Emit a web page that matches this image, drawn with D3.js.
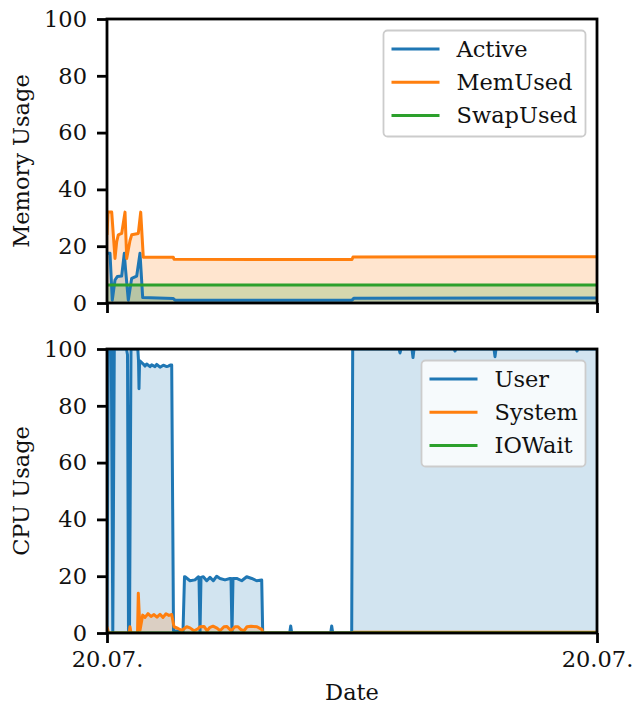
<!DOCTYPE html>
<html>
<head>
<meta charset="utf-8">
<script src="https://cdn.jsdelivr.net/npm/d3@7"></script>
<style>
  body { margin: 0; background: #fff; }
  svg text { font-family: "DejaVu Serif"; fill: #111; }
</style>
</head>
<body>
<svg id="chart" width="634" height="706"></svg>
<script>
// time axis: minutes after the start of the record
var startTime = new Date(2020, 6, 20, 9, 0);
var spanMin = 490;

// memory panel (percent)
var activeMin  = [0, 3, 5.3, 8, 10.3, 14.7, 17.3, 18.5, 21.3, 24.7, 29.7, 33, 35.7, 66.3, 68, 245, 247, 490];
var activeVal  = [17.5, 17.5, 1, 8.1, 9.3, 9.5, 17.5, 12, 1, 8.7, 9.5, 17.5, 1.9, 1.6, 1.0, 1.0, 1.7, 1.8];
var memUsedMin = [0, 1, 4.7, 8, 9.7, 11.3, 14.7, 18, 19.7, 23, 24.7, 31.3, 33.7, 36.3, 66.3, 67, 245, 246, 490];
var memUsedVal = [24, 32, 32, 15.7, 21.6, 24, 24.5, 32, 15.7, 22, 24, 24.5, 32, 16.1, 16.1, 15.4, 15.3, 16.2, 16.3];
var swapMin    = [0, 490];
var swapVal    = [6.3, 6.3];

// cpu panel (percent)
var userMin = [0, 1.3, 4.3, 5.8, 7.3, 19.5, 20.5, 21.5, 22.5, 24, 30.8, 31.5, 32, 32.6, 36.3, 38, 39.7, 43, 44.7, 48,
               49.7, 53, 56.3, 59.7, 61.3, 63.7, 64.7, 66.5, 76, 77.5, 78, 83, 88, 91.3, 92, 93, 94, 96.3, 99.7,
               103, 106.3, 109.7, 113, 118, 123, 124, 125, 126, 129.7, 134.7, 139.7, 144.7, 149.7, 154.7, 155.7,
               182.7, 183.7, 184.7, 223.7, 224.7, 225.7, 244.7, 245.7, 292, 293, 294, 305, 306, 307, 347, 348, 349,
               387, 388, 389, 469, 470, 471, 490];
var userVal = [2, 100, 100, 0, 100, 100, 98, 0, 0, 100, 100, 96, 86, 95.9, 94.7, 94.0, 94.7, 93.8, 94.4, 93.8,
               94.6, 93.6, 94.3, 93.8, 94.0, 94.4, 94.4, 0.8, 0.6, 19.8, 19.8, 18.4, 18.7, 19.8, 19.6, 0, 19.6, 19.8, 18.4,
               19.6, 18.4, 20, 19.2, 18.7, 19.2, 19.2, 0, 19.2, 19.2, 18.4, 19.8, 19.2, 18.4, 18.7, 0,
               0, 2.5, 0, 0, 2.5, 0, 0, 100, 100, 98.6, 100, 100, 97, 100, 100, 99.3, 100,
               100, 97.3, 100, 100, 99.3, 100, 100];
var systemMin = [0, 1.5, 22, 23, 24, 30.5, 31.3, 33, 35.7, 38, 41, 44, 47, 50, 53, 56, 59, 62, 64.7, 67, 71, 74.7,
                 79.7, 83, 87, 91, 93, 97, 100, 103, 106, 110, 113, 117, 120, 124, 128, 131, 134, 137, 140, 144,
                 150, 154.7, 156, 245, 247, 490];
var systemVal = [2.2, 0, 0, 2.2, 0, 0, 14, 1, 6.3, 5.5, 6.8, 5.8, 6.5, 5.6, 6.6, 5.5, 6.8, 6.2, 6.5, 2.2, 1.6, 0.9,
                 2.2, 1.8, 0.8, 1.5, 2.2, 2.3, 0.8, 2, 2.4, 1.7, 0.8, 2.2, 2.3, 0.8, 2.2, 2.2, 1.2, 0.8, 2.2, 2.4,
                 2.2, 1.3, 0, 0, 0.3, 0.3];
var ioWaitMin = [0, 490];
var ioWaitVal = [0, 0];

var yTicks = [0, 20, 40, 60, 80, 100];

var colBlue = "#1f77b4", colOrange = "#ff7f0e", colGreen = "#2ca02c";
var fontSize = "22.5px";

var svg = d3.select("#chart");
var left = 107, right = 597;

var endTime = new Date(startTime.getTime() + spanMin * 60000);
var x = d3.scaleTime().domain([startTime, endTime]).range([left, right]);

function toPoints(mins, vals) {
  return mins.map(function(m, i) {
    return { t: new Date(startTime.getTime() + m * 60000), v: vals[i] };
  });
}

function panel(id, top, bottom, label, series, legendPos, showDates) {
  var y = d3.scaleLinear().domain([0, 100]).range([bottom, top]);
  var g = svg.append("g");

  g.append("clipPath").attr("id", id)
    .append("rect").attr("x", left).attr("y", top)
    .attr("width", right - left).attr("height", bottom - top);

  var plot = g.append("g").attr("clip-path", "url(#" + id + ")");

  var area = d3.area()
    .x(function(d) { return x(d.t); })
    .y0(y(0))
    .y1(function(d) { return y(d.v); });
  var line = d3.line()
    .x(function(d) { return x(d.t); })
    .y(function(d) { return y(d.v); });

  // fills below, lines on top (like the matplotlib zorder)
  series.forEach(function(s) {
    plot.append("path").datum(s.pts)
      .attr("d", area)
      .attr("fill", s.color).attr("fill-opacity", 0.2);
  });
  series.forEach(function(s) {
    plot.append("path").datum(s.pts)
      .attr("d", line)
      .attr("fill", "none").attr("stroke", s.color)
      .attr("stroke-width", 3).attr("stroke-linejoin", "round");
  });

  // axes
  var ya = g.append("g").attr("transform", "translate(" + left + ",0)")
    .call(d3.axisLeft(y).tickValues(yTicks).tickSize(10).tickPadding(10));
  var xa = g.append("g").attr("transform", "translate(0," + bottom + ")")
    .call(d3.axisBottom(x).tickValues([startTime, endTime]).tickSize(10).tickPadding(8)
      .tickFormat(showDates ? d3.timeFormat("%d.%m.") : function() { return ""; }));
  [ya, xa].forEach(function(a) {
    a.select(".domain").remove();
    a.selectAll("line").attr("stroke", "#000").attr("stroke-width", 2.8);
    a.selectAll("text").style("font-family", "DejaVu Serif").style("font-size", fontSize).attr("fill", "#111");
  });

  g.append("rect").attr("x", left).attr("y", top)
    .attr("width", right - left).attr("height", bottom - top)
    .attr("fill", "none").attr("stroke", "#000").attr("stroke-width", 2.8);

  g.append("text")
    .attr("transform", "translate(21," + ((top + bottom) / 2) + ") rotate(-90)")
    .attr("text-anchor", "middle").attr("dy", "0.35em")
    .style("font-size", fontSize)
    .text(label);

  // legend
  var lg = g.append("g").attr("transform", "translate(" + legendPos[0] + "," + legendPos[1] + ")");
  lg.append("rect").attr("width", legendPos[2]).attr("height", 106)
    .attr("rx", 4).attr("fill", "#fff").attr("fill-opacity", 0.8)
    .attr("stroke", "#cccccc").attr("stroke-width", 1.8);
  series.forEach(function(s, i) {
    var yy = 18.5 + i * 33.3;
    lg.append("line").attr("x1", 8).attr("x2", 56).attr("y1", yy).attr("y2", yy)
      .attr("stroke", s.color).attr("stroke-width", 3);
    lg.append("text").attr("x", 73).attr("y", yy).attr("dy", "0.35em")
      .style("font-size", fontSize).text(s.name);
  });
}

panel("clipMem", 19, 303, "Memory Usage", [
  { name: "Active",   color: colBlue,   pts: toPoints(activeMin, activeVal) },
  { name: "MemUsed",  color: colOrange, pts: toPoints(memUsedMin, memUsedVal) },
  { name: "SwapUsed", color: colGreen,  pts: toPoints(swapMin, swapVal) }
], [383.5, 30.5, 202], false);

panel("clipCpu", 349, 633, "CPU Usage", [
  { name: "User",   color: colBlue,   pts: toPoints(userMin, userVal) },
  { name: "System", color: colOrange, pts: toPoints(systemMin, systemVal) },
  { name: "IOWait", color: colGreen,  pts: toPoints(ioWaitMin, ioWaitVal) }
], [421.5, 360.5, 164], true);

svg.append("text").attr("x", (left + right) / 2).attr("y", 700)
  .attr("text-anchor", "middle").style("font-size", fontSize).text("Date");
</script>
</body>
</html>
